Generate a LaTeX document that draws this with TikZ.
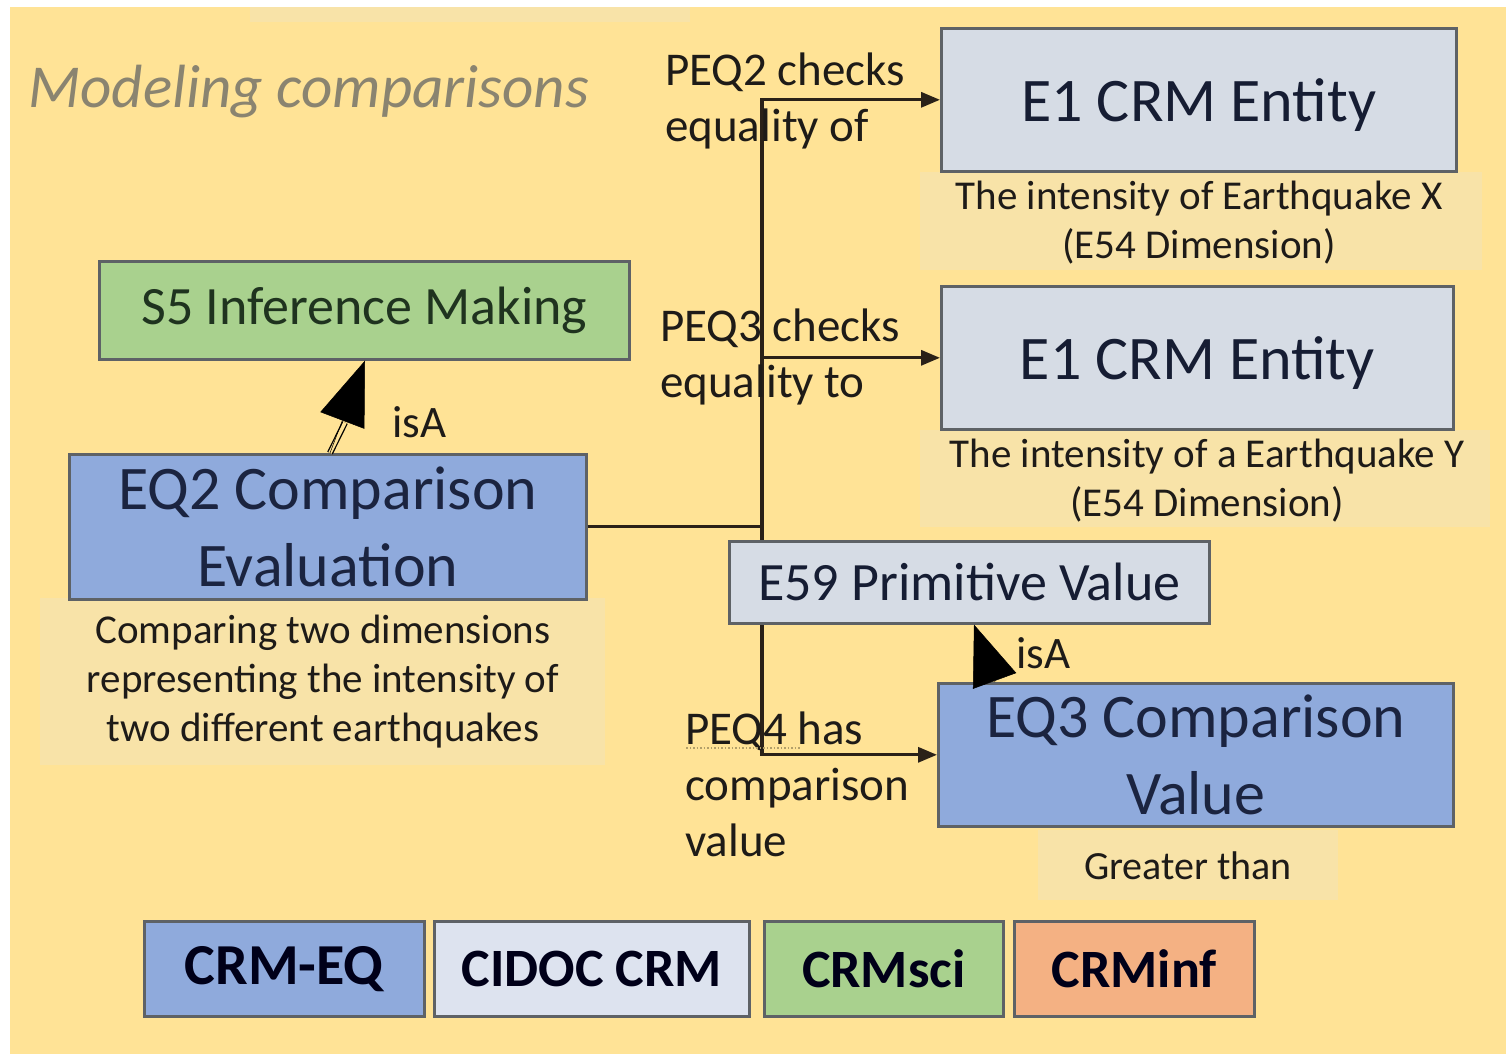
\documentclass[tikz,border=0pt]{standalone}
\usepackage{fontspec}
\setmainfont{Carlito}
\usetikzlibrary{arrows.meta,calc}

\definecolor{paper}{HTML}{FFE396}
\definecolor{note}{HTML}{F8E3A8}
\definecolor{boxline}{HTML}{5E6266}
\definecolor{eqblue}{HTML}{8FAADC}
\definecolor{cidoc}{HTML}{D6DCE5}
\definecolor{cidoclight}{HTML}{DDE3EF}
\definecolor{sci}{HTML}{A9D18E}
\definecolor{inf}{HTML}{F4B183}
\definecolor{wire}{HTML}{2A2118}
\definecolor{ink}{HTML}{1E1B18}
\definecolor{navy}{HTML}{1B2440}
\definecolor{darkgreen}{HTML}{1F331F}
\definecolor{titlegrey}{HTML}{8A8470}

\tikzset{
  box/.style={draw=boxline, line width=2.6pt, inner sep=0pt, align=center, anchor=north west},
  eqbox/.style={box, fill=eqblue, text=navy, font=\fontsize{62}{77}\selectfont},
  crmbox/.style={box, fill=cidoc, text=navy!80!black, font=\fontsize{62}{77}\selectfont},
  scibox/.style={box, fill=sci, text=darkgreen, font=\fontsize{54}{64}\selectfont},
  keybox/.style={box, text=black!90!blue, font=\bfseries\fontsize{54}{64}\selectfont},
  lbl/.style={inner sep=0pt, text=ink, align=left, font=\fontsize{47}{56}\selectfont},
  notetext/.style={inner sep=0pt, text=ink, align=center, font=\fontsize{41}{49}\selectfont},
  conn/.style={draw=wire, line width=3.2pt},
  linkarrow/.style={conn, -{Triangle[length=19pt,width=15pt]}},
  isashaft/.style={draw=black, line width=1.3pt, double=paper, double distance=3.5pt},
}

\begin{document}
\begin{tikzpicture}[x=1pt,y=-1pt]
\useasboundingbox (0,0) rectangle (1506,1054);
\fill[white] (0,0) rectangle (1506,1054);
\fill[paper] (10,7) rectangle (1506,1054);

% light panels behind the free text
\fill[note] (250,7) rectangle (690,22);
\fill[note] (920,172) rectangle (1482,270);
\fill[note] (920,430) rectangle (1490,527);
\fill[note] (40,598) rectangle (605,765);
\fill[note] (1038,830) rectangle (1338,900);

% heading
\node[inner sep=0pt, anchor=base west, text=titlegrey,
      font=\itshape\fontsize{61}{70}\selectfont] (title) at (28,107) {Modeling comparisons};

% class boxes
\node[scibox, minimum width=530pt, minimum height=98pt] (s5) at (98,260) {S5 Inference Making};
\node[eqbox, minimum width=517pt, minimum height=145pt] (eq2) at (68,453) {EQ2 Comparison\\Evaluation};
\node[crmbox, minimum width=515pt, minimum height=143pt, text depth=0pt] (e1a) at (940,27) {E1 CRM Entity};
\node[crmbox, minimum width=512pt, minimum height=143pt, text depth=0pt] (e1b) at (940,285) {E1 CRM Entity};
\node[eqbox, minimum width=515pt, minimum height=143pt] (eq3) at (937,682) {EQ3 Comparison\\Value};

% property links from EQ2
\coordinate (bus) at (762,523);
\draw[linkarrow] (eq2.east -| bus) |- (e1a.west);
\draw[conn] (eq2.east) -- (eq2.east -| bus);
\draw[linkarrow] (e1b.west -| bus) -- (e1b.west);
\draw[linkarrow] (eq2.east -| bus) |- (eq3.west);

% E59 sits on top of the vertical link
\node[crmbox, minimum width=480pt, minimum height=82pt,
      font=\fontsize{54}{64}\selectfont] (e59) at (728,540) {E59 Primitive Value};

% property labels
\node[lbl, anchor=west] (peq2) at (665,101) {PEQ2 checks\\equality of};
\node[lbl, anchor=west] (peq3) at (660,357) {PEQ3 checks\\equality to};
\node[lbl, anchor=west] (peq4) at (685,784) {PEQ4 has\\comparison\\value};
\draw[dotted, line width=1.5pt, color=black!30!paper] (686,748) -- (800,748);

% isA links
\draw[isashaft] ($(eq2.north west)+(262,0)$) -- ($(s5.south west)+(247,62)$);
\draw[line width=0.5pt, -{Triangle[length=64pt,width=47pt]}]
  ($(eq2.north west)+(262,0)$) -- ($(s5.south west)+(267,0)$);
\node[lbl, anchor=base west, font=\fontsize{45}{54}\selectfont] (isa1) at (392,437) {isA};

\draw[line width=0.5pt, -{Triangle[length=60pt,width=46pt]}]
  ($(eq3.north west)+(58,0)$) -- ($(e59.south west)+(246,0)$);
\node[lbl, anchor=base west, font=\fontsize{45}{54}\selectfont] (isa2) at (1016,668) {isA};

% explanatory notes
\node[notetext] (notex) at (1199,223) {The intensity of Earthquake X\\(E54 Dimension)};
\node[notetext] (notey) at (1207,481) {The intensity of a Earthquake Y\\(E54 Dimension)};
\node[notetext] (noteeq2) at (323,682) {Comparing two dimensions\\representing the intensity of\\two different earthquakes};
\node[notetext, font=\fontsize{40}{48}\selectfont] (notegt) at (1188,866) {Greater than};

% key
\node[keybox, fill=eqblue, minimum width=280pt, minimum height=95pt, font=\bfseries\fontsize{58}{64}\selectfont] (keyeq) at (143,920) {CRM-EQ};
\node[keybox, fill=cidoclight, minimum width=315pt, minimum height=95pt] (keycidoc) at (433,920) {CIDOC CRM};
\node[keybox, fill=sci, minimum width=239pt, minimum height=95pt] (keysci) at (763,920) {CRMsci};
\node[keybox, fill=inf, minimum width=240pt, minimum height=95pt] (keyinf) at (1013,920) {CRMinf};
\end{tikzpicture}
\end{document}
